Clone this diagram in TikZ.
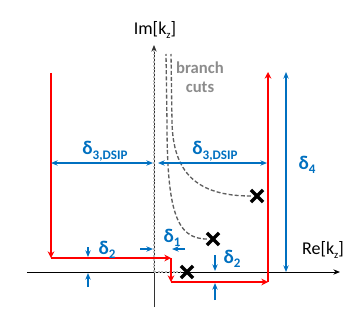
\documentclass[tikz,border=0pt]{standalone}
\usepackage{fontspec}
\setmainfont{Carlito}
\usetikzlibrary{positioning,arrows.meta,shapes.misc}
\definecolor{dimblue}{RGB}{0,112,192}
\definecolor{cutgray}{RGB}{95,95,95}
\definecolor{txtgray}{RGB}{140,140,140}
\newcommand{\dsub}[1]{δ\raisebox{-0.5ex}{\fontsize{9.8}{10}\selectfont #1}}
\newcommand{\kz}{k\raisebox{-0.45ex}{\fontsize{8}{8}\selectfont z}}

\begin{document}
\begin{tikzpicture}[
  x=0.75pt, y=0.75pt,
  axis/.style={-{Stealth[length=5pt,width=4pt]}, line width=0.7pt},
  cut/.style={cutgray, line width=1pt, dash pattern=on 3pt off 1.6pt},
  axcut/.style={gray!55, line width=1.2pt, dash pattern=on 1.4pt off 1.4pt},
  contour/.style={red, line width=1.7pt, -{Stealth[length=5pt,width=5pt]}},
  dim/.style={dimblue, line width=0.8pt,
    {Stealth[length=5pt,width=4pt]}-{Stealth[length=5pt,width=4pt]}},
  tick/.style={dimblue, line width=0.8pt, -{Stealth[length=5pt,width=4pt]}},
  lab/.style={text=dimblue, font=\fontsize{14.5}{16}\selectfont\bfseries, inner sep=0pt},
  pole/.style={cross out, draw=black, line width=2.6pt, minimum size=6.5pt, inner sep=0pt}
]
\useasboundingbox (-154,-46) rectangle (209,272);

% axes
\coordinate (O) at (0,0);
\coordinate (re0) at (-127,0);
\coordinate (re1) at (186,0);
\coordinate (im0) at (0,-35);
\coordinate (im1) at (0,227);
\draw[axis, gray!40!black] (im0) -- (im1);
\draw[axis] (re0) -- (re1);
\node[font=\fontsize{13.5}{15}\selectfont] (relab) at (169,22) {Re[\kz]};
\node[font=\fontsize{13.5}{15}\selectfont] (imlab) at (1,242) {Im[\kz]};

% branch points and cuts
\node[pole] (bp1) at (33,0) {};
\node[pole] (bp2) at (59,33) {};
\node[pole] (bp3) at (103,76) {};
\coordinate (top0) at (0,222);
\coordinate (top1) at (12,218);
\coordinate (top2) at (17,218);
\draw[axcut] (O) -- (top0);
\draw[axcut] (O) -- (bp1.west);
\draw[cut] (bp2.west) .. controls (22,33) and (13,62) .. (13,150) -- (top1);
\draw[cut] (bp3.west) .. controls (42,76) and (19,100) .. (18,150) -- (top2);
\node[text=txtgray, font=\fontsize{12.5}{14.5}\selectfont\bfseries, align=center]
  (cuts) at (46,195) {branch\\cuts};

% integration contour
\coordinate (c0) at (-103,199);
\coordinate (c1) at (-103,14);
\coordinate (c2) at (17,14);
\coordinate (c3) at (17,-10);
\coordinate (c4) at (114,-10);
\coordinate (c5) at (114,200);
\draw[contour] (c0) -- (c1);
\draw[contour] (c1) -- (c2);
\draw[contour] (c2) -- (c3);
\draw[contour] (c3) -- (c4);
\draw[contour] (c4) -- (c5);

% delta 3
\coordinate (d3a) at (-103,109);
\coordinate (d3b) at (-1,109);
\coordinate (d3c) at (4,109);
\coordinate (d3d) at (113,109);
\draw[dim] (d3a) -- (d3b);
\draw[dim] (d3c) -- (d3d);
\node[lab] (d3l) at (-49,121) {\dsub{3,DSIP}};
\node[lab] (d3r) at (61,121) {\dsub{3,DSIP}};

% delta 4
\coordinate (d4a) at (132,0);
\coordinate (d4b) at (132,200);
\draw[dim] (d4a) -- (d4b);
\node[lab] (d4) at (153,107) {\dsub{4}};

% delta 2, left
\coordinate (l2a) at (-66,25);
\coordinate (l2b) at (-66,15);
\coordinate (l2c) at (-66,-15);
\coordinate (l2d) at (-66,-1);
\draw[tick] (l2a) -- (l2b);
\draw[tick] (l2c) -- (l2d);
\node[lab] (d2l) at (-47,22) {\dsub{2}};

% delta 1
\coordinate (d1a) at (-14,23);
\coordinate (d1b) at (-1,23);
\coordinate (d1c) at (31,23);
\coordinate (d1d) at (18,23);
\draw[tick] (d1a) -- (d1b);
\draw[tick] (d1c) -- (d1d);
\node[lab] (d1) at (18,34) {\dsub{1}};

% delta 2, right
\coordinate (r2a) at (61,17);
\coordinate (r2b) at (61,1);
\coordinate (r2c) at (61,-28);
\coordinate (r2d) at (61,-11);
\draw[tick] (r2a) -- (r2b);
\draw[tick] (r2c) -- (r2d);
\node[lab] (d2r) at (78,13) {\dsub{2}};
\end{tikzpicture}
\end{document}
